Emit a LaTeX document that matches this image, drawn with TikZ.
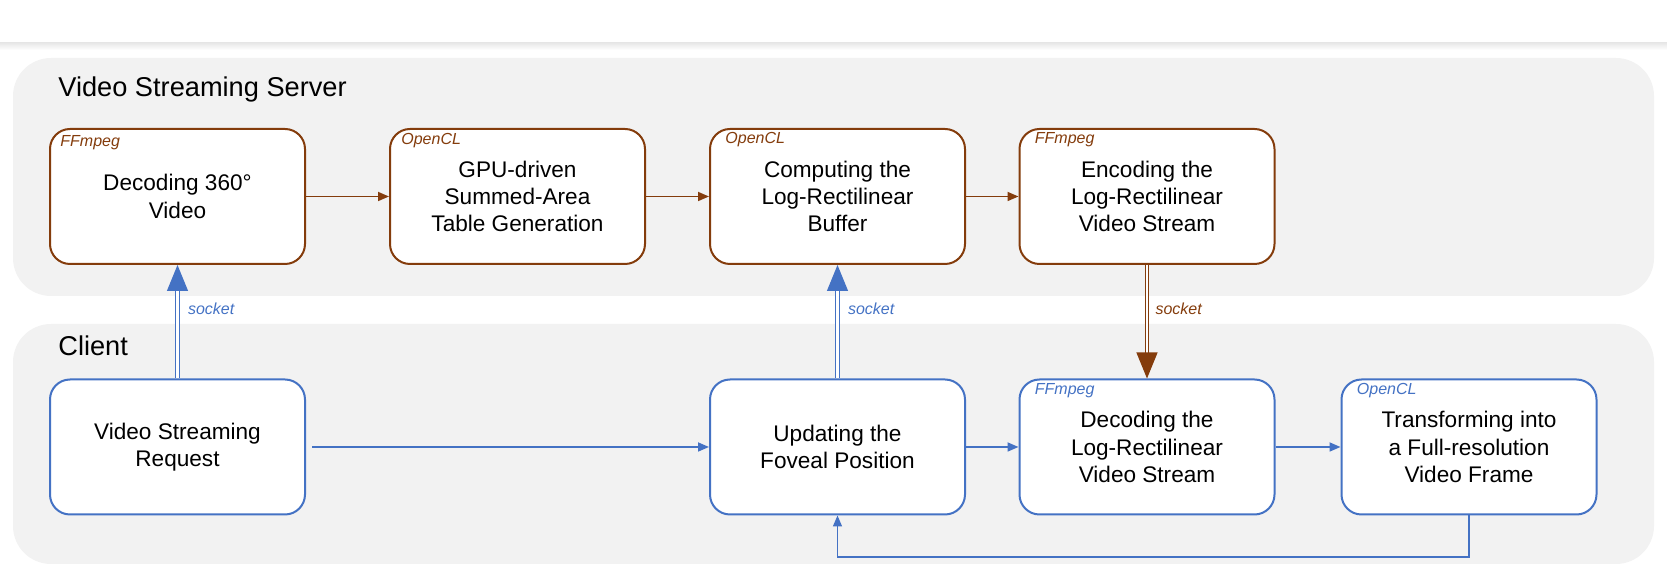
\documentclass[tikz,border=0pt]{standalone}
\usepackage{fontspec}
\setmainfont{Liberation Sans}
\usepackage{tikz}
\definecolor{Srvr}{RGB}{132,60,12}
\definecolor{Clnt}{RGB}{68,114,196}
\definecolor{Pnl}{RGB}{242,242,242}
\usetikzlibrary{arrows.meta,positioning}

\tikzset{
  stage/.style={draw, fill=white, rounded corners=10pt, line width=1pt,
                minimum width=127.5pt, minimum height=67.5pt, inner sep=0pt,
                align=center, font=\fontsize{11.3}{13.6}\selectfont},
  srvbox/.style={stage, draw=Srvr},
  clibox/.style={stage, draw=Clnt},
  tool/.style={font=\fontsize{8}{9.6}\selectfont\itshape, anchor=base west, inner sep=0pt},
  flow/.style={line width=0.85pt, -{Triangle[length=5.5pt,width=4.5pt]}},
  sock/.style={double, line width=0.55pt, double distance=1.3pt,
               -{Triangle[length=13pt,width=10.5pt]}},
  socklbl/.style={font=\fontsize{8}{9.6}\selectfont\itshape, inner sep=0pt},
  panel/.style={fill=Pnl, rounded corners=19pt},
  paneltitle/.style={font=\fontsize{13.6}{16}\selectfont, anchor=base west, inner sep=0pt}
}

\begin{document}
\begin{tikzpicture}[x=0.5pt, y=-0.5pt]
    \useasboundingbox (0,0) rectangle (1667,576);
    % header edge
    \shade[top color=black!9, bottom color=white] (0,43) rectangle (1667,50);

    % the two panels
    \fill[panel] (13,58) rectangle (1654,296);
    \fill[panel] (13,324) rectangle (1654,564);
    \node[paneltitle] (srvtitle) at (58,96.5) {Video Streaming Server};
    \node[paneltitle] (clititle) at (58,356) {Client};

    % server side
    \node[srvbox] (dec) at (177.5,196.5) {Decoding 360°\\Video};
    \node[srvbox] (sat) at (517.5,196.5) {GPU-driven\\Summed-Area\\Table Generation};
    \node[srvbox] (lrb) at (837.5,196.5) {Computing the\\Log-Rectilinear\\Buffer};
    \node[srvbox] (enc) at (1147,196.5) {Encoding the\\Log-Rectilinear\\Video Stream};

    \node[tool, Srvr] (dect) at ([xshift=5.5pt, yshift=-9.5pt]dec.north west) {FFmpeg};
    \node[tool, Srvr] (satt) at ([xshift=6pt, yshift=-8.5pt]sat.north west) {OpenCL};
    \node[tool, Srvr] (lrbt) at ([xshift=8pt, yshift=-8pt]lrb.north west) {OpenCL};
    \node[tool, Srvr] (enct) at ([xshift=8pt, yshift=-8pt]enc.north west) {FFmpeg};

    % client side
    \node[clibox] (req) at (177.5,447) {Video Streaming\\Request};
    \node[clibox] (fov) at (837.5,447) {Updating the\\Foveal Position};
    \node[clibox] (dlr) at (1147,447) {Decoding the\\Log-Rectilinear\\Video Stream};
    \node[clibox] (frm) at (1469,447) {Transforming into\\a Full-resolution\\Video Frame};

    \node[tool, Clnt] (dlrt) at ([xshift=8pt, yshift=-8pt]dlr.north west) {FFmpeg};
    \node[tool, Clnt] (frmt) at ([xshift=8pt, yshift=-8pt]frm.north west) {OpenCL};

    % pipelines
    \draw[flow, Srvr] (dec) -- (sat);
    \draw[flow, Srvr] (sat) -- (lrb);
    \draw[flow, Srvr] (lrb) -- (enc);

    \draw[flow, Clnt, shorten <=3pt] (req) -- (fov);
    \draw[flow, Clnt] (fov) -- (dlr);
    \draw[flow, Clnt] (dlr) -- (frm);

    \coordinate (back) at (837.5,557);
    \draw[flow, Clnt, line width=0.7pt] (frm.south) |- (back) -- (fov.south);

    % sockets
    \draw[sock, Clnt] (req.north) -- (dec.south)
        node[socklbl, pos=0.61, right=5pt] {socket};
    \draw[sock, Clnt] (fov.north) -- (lrb.south)
        node[socklbl, pos=0.61, right=5pt] {socket};
    \draw[sock, Srvr] (enc.south) -- (dlr.north)
        node[socklbl, pos=0.39, right=4pt] {socket};
\end{tikzpicture}
\end{document}
